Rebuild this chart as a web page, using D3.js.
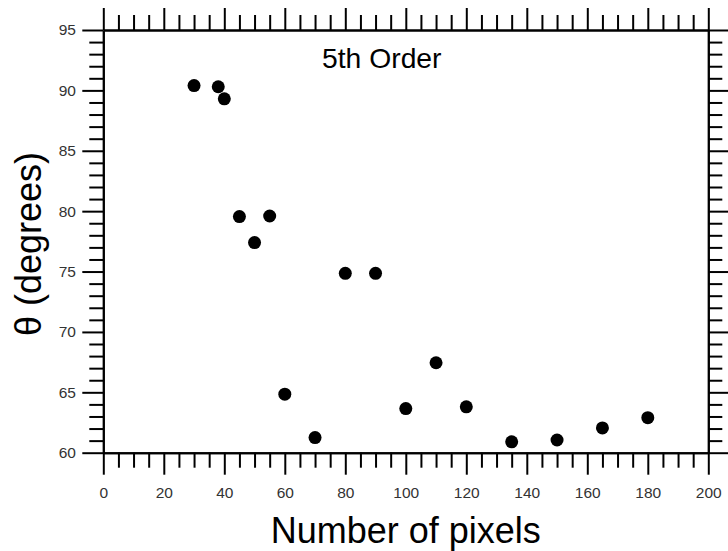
<!DOCTYPE html>
<html>
<head>
<meta charset="utf-8">
<script src="https://cdn.jsdelivr.net/npm/d3@7/dist/d3.min.js"></script>
<style>
  html, body { margin: 0; padding: 0; background: #fff; }
  svg { display: block; }
  .tick text { font-family: Arial, "Liberation Sans", sans-serif; fill: #333; }
</style>
</head>
<body>
<svg id="chart" width="728" height="551"></svg>
<script>
// Measured angle vs. number of pixels (5th order fit)
const pixels = [30, 38, 40, 45, 50, 55, 60, 70, 80, 90, 100, 110, 120, 135, 150, 165, 180];
const theta  = [90.4, 90.3, 89.3, 79.55, 77.4, 79.6, 64.85, 61.25, 74.85, 74.85, 63.65, 67.45, 63.8, 60.9, 61.05, 62.05, 62.9];

const xMajor = [0, 20, 40, 60, 80, 100, 120, 140, 160, 180, 200];
const yMajor = [60, 65, 70, 75, 80, 85, 90, 95];
const xMinor = d3.range(0, 201, 5).filter(v => v % 20 !== 0);
const yMinor = d3.range(60, 96, 1).filter(v => v % 5 !== 0);

const W = 728, H = 551;
const margin = { left: 103.3, right: 19.7, top: 30, bottom: 98.3 };
const iw = W - margin.left - margin.right;
const ih = H - margin.top - margin.bottom;

const svg = d3.select("#chart");
const g = svg.append("g").attr("transform", `translate(${margin.left},${margin.top})`);

const x = d3.scaleLinear().domain([0, 200]).range([0, iw]);
const y = d3.scaleLinear().domain([60, 95]).range([ih, 0]);

const MAJ = 22, MIN = 15;
const LABEL_SIZE = 15.5;

function styleAxis(sel) {
  sel.attr("font-size", LABEL_SIZE);
  sel.select(".domain").attr("stroke", "#000").attr("stroke-width", 2);
  sel.selectAll(".tick line").attr("stroke", "#000").attr("stroke-width", 2);
  sel.selectAll(".tick text").attr("font-size", LABEL_SIZE);
}

// bottom axis
g.append("g").attr("transform", `translate(0,${ih})`)
  .call(d3.axisBottom(x).tickValues(xMajor).tickSize(MAJ).tickSizeOuter(0).tickPadding(12.4).tickFormat(d3.format("d")))
  .call(styleAxis);
g.append("g").attr("transform", `translate(0,${ih})`)
  .call(d3.axisBottom(x).tickValues(xMinor).tickSize(MIN).tickSizeOuter(0).tickFormat(""))
  .call(styleAxis);

// top axis
g.append("g")
  .call(d3.axisTop(x).tickValues(xMajor).tickSize(MAJ).tickSizeOuter(0).tickFormat(""))
  .call(styleAxis);
g.append("g")
  .call(d3.axisTop(x).tickValues(xMinor).tickSize(MIN).tickSizeOuter(0).tickFormat(""))
  .call(styleAxis);

// left axis
g.append("g")
  .call(d3.axisLeft(y).tickValues(yMajor).tickSize(21).tickSizeOuter(0).tickPadding(6.3).tickFormat(d3.format("d")))
  .call(styleAxis);
g.append("g")
  .call(d3.axisLeft(y).tickValues(yMinor).tickSize(14).tickSizeOuter(0).tickFormat(""))
  .call(styleAxis);

// right axis
g.append("g").attr("transform", `translate(${iw},0)`)
  .call(d3.axisRight(y).tickValues(yMajor).tickSize(21).tickSizeOuter(0).tickFormat(""))
  .call(styleAxis);
g.append("g").attr("transform", `translate(${iw},0)`)
  .call(d3.axisRight(y).tickValues(yMinor).tickSize(14).tickSizeOuter(0).tickFormat(""))
  .call(styleAxis);

// data points
g.append("g").selectAll("circle")
  .data(pixels.map((p, i) => ({ p, t: theta[i] })))
  .join("circle")
  .attr("cx", d => x(d.p))
  .attr("cy", d => y(d.t))
  .attr("r", 6.5)
  .attr("fill", "#000");

// annotation
svg.append("text")
  .attr("x", 322).attr("y", 67.5)
  .attr("font-family", "Arial, 'Liberation Sans', sans-serif")
  .attr("font-size", 28.3)
  .attr("fill", "#000")
  .text("5th Order");

// axis titles
svg.append("text")
  .attr("x", margin.left + iw / 2).attr("y", 543)
  .attr("text-anchor", "middle")
  .attr("font-family", "Arial, 'Liberation Sans', sans-serif")
  .attr("font-size", 36)
  .attr("fill", "#000")
  .text("Number of pixels");

svg.append("text")
  .attr("transform", `translate(41,${244}) rotate(-90)`)
  .attr("text-anchor", "middle")
  .attr("font-family", "Arial, 'Liberation Sans', sans-serif")
  .attr("font-size", 36)
  .attr("fill", "#000")
  .text("θ (degrees)");
</script>
</body>
</html>
